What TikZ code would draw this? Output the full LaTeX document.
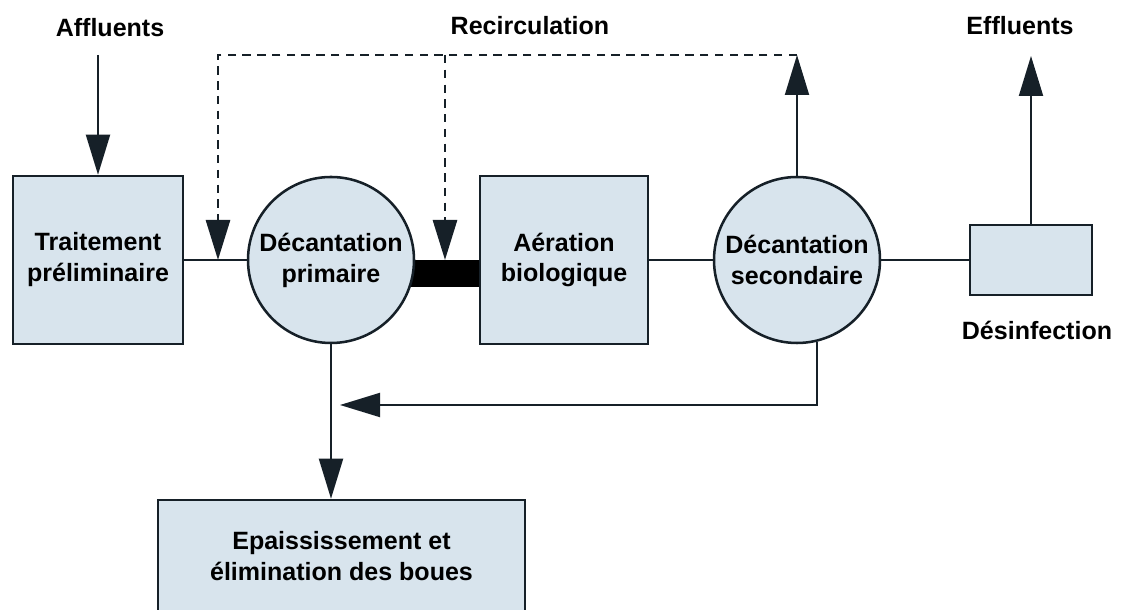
\documentclass[tikz,border=0pt]{standalone}
\usepackage{fontspec}
\setmainfont{Liberation Sans}
\usetikzlibrary{arrows.meta}
\usetikzlibrary{backgrounds}
\definecolor{tankblue}{RGB}{216,228,237}
\definecolor{darkline}{RGB}{22,32,40}

\begin{document}
\begin{tikzpicture}[
  font=\bfseries\fontsize{17.8}{22}\selectfont,
  unit/.style={draw=darkline, line width=1.8pt, fill=tankblue, align=center, inner sep=0},
  box/.style={unit, rectangle, minimum width=4.25cm, minimum height=4.2cm},
  tank/.style={unit, circle, minimum size=4.15cm},
  flow/.style={darkline, line width=1.4pt},
  head/.style={-{Triangle[length=1cm,width=.6cm]}},
  recirc/.style={flow, line width=2pt, dash pattern=on 6pt off 4.5pt}
]
\useasboundingbox (0,0) rectangle (28.2,15.25);
% treatment line
\node[box] (trait) at (2.45,8.75) {Traitement\\préliminaire};
\node[tank] (prim) at (8.275,8.75) {Décantation\\primaire};
\node[box, minimum width=4.2cm] (aer) at (14.1,8.75) {Aération\\biologique};
\node[tank] (sec) at (19.925,8.75) {Décantation\\secondaire};
\node[box, minimum width=3.05cm, minimum height=1.75cm] (des) at (25.775,8.75) {};
\node[box, minimum width=9.175cm, minimum height=2.8cm] (boues) at (8.5375,1.35) {Epaississement et\\élimination des boues};
% labels
\node (aff) at (2.75,14.55) {Affluents};
\node (recl) at (13.25,14.6) {Recirculation};
\node (eff) at (25.5,14.6) {Effluents};
\node (desl) at (25.925,7.0) {Désinfection};
% free ends
\coordinate (ain) at (2.45,13.875);
\coordinate (eout) at (25.775,13.85);
\coordinate (rleft) at (5.45,13.875);
\coordinate (rmid) at (11.125,13.875);
\coordinate (rright) at (19.925,13.875);
\coordinate (ret) at (8.5,5.125);
% thick link primaire -> aeration
\begin{scope}[on background layer]
\fill[black] (prim.center) rectangle ([yshift=-.675cm]aer.west);
\end{scope}
\draw[flow, head] (ain) -- (trait.north);
\draw[flow] (trait.east) -- (prim.west);
\draw[flow] (aer.east) -- (sec.west);
\draw[flow] (sec.east) -- (des.west);
\draw[flow, head] (des.north) -- (eout);
\draw[flow, head] (sec.north) -- (rright);
\draw[recirc, head] (rright) -- (rleft) -- (rleft |- trait.east);
\draw[recirc, head] (rmid) -- (rmid |- aer.west);
\draw[flow, head] (sec.-76) |- (ret);
\draw[flow, head] (prim.south) -- (prim.south |- boues.north);
\end{tikzpicture}
\end{document}
